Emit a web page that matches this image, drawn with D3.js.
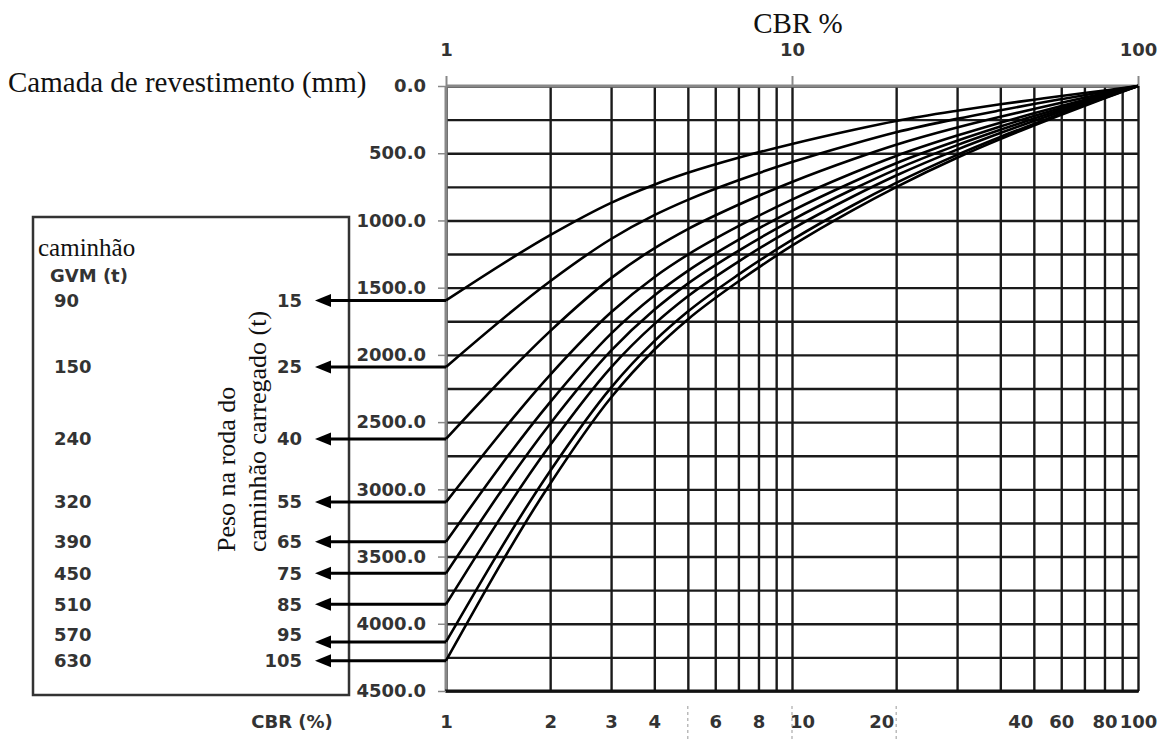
<!DOCTYPE html>
<html>
<head>
<meta charset="utf-8">
<script src="https://cdn.jsdelivr.net/npm/d3@7"></script>
<style>
  body { margin: 0; background: #fff; }
  .serif { font-family: "Liberation Serif", "Times New Roman", serif; fill: #111; }
  .sans { font-family: "DejaVu Sans", sans-serif; font-weight: bold; fill: #333; }
</style>
</head>
<body>
<svg width="1171" height="740"></svg>
<script>
// pontos de CBR (%) onde as curvas foram lidas
const cbrPontos = [1, 2, 3, 4, 5, 7, 10, 15, 20, 30, 40, 50, 60, 80, 100];

// peso na roda (t) e GVM do caminhão (t)
const pesoRoda = [15, 25, 40, 55, 65, 75, 85, 95, 105];
const gvm = [90, 150, 240, 320, 390, 450, 510, 570, 630];

// espessura da camada (mm) de cada curva nos pontos de cbrPontos
const esp15  = [1595, 1109, 869, 734, 646, 534, 431, 327, 260, 184, 136, 102, 74, 33, 0];
const esp25  = [2090, 1452, 1138, 961, 847, 701, 566, 431, 344, 244, 181, 134, 98, 43, 0];
const esp40  = [2625, 1823, 1429, 1207, 1064, 883, 714, 545, 437, 309, 229, 171, 125, 54, 0];
const esp55  = [3095, 2148, 1683, 1422, 1255, 1043, 845, 647, 520, 369, 273, 203, 148, 64, 0];
const esp65  = [3390, 2351, 1842, 1558, 1375, 1144, 929, 714, 575, 408, 302, 224, 164, 71, 0];
const esp75  = [3625, 2512, 1969, 1665, 1470, 1226, 997, 768, 620, 440, 326, 242, 177, 76, 0];
const esp85  = [3855, 2671, 2092, 1771, 1564, 1306, 1064, 822, 666, 473, 350, 260, 190, 81, 0];
const esp95  = [4135, 2863, 2243, 1898, 1678, 1403, 1145, 887, 721, 512, 379, 282, 205, 88, 0];
const esp105 = [4275, 2958, 2317, 1962, 1736, 1454, 1188, 923, 752, 534, 395, 294, 214, 91, 0];
const curvas = [esp15, esp25, esp40, esp55, esp65, esp75, esp85, esp95, esp105];

// ticks e grade
const ticksTopo = [1, 10, 100];
const ticksBase = [1, 2, 3, 4, 6, 8, 10, 20, 40, 60, 80, 100];
const ticksEsp = [0, 500, 1000, 1500, 2000, 2500, 3000, 3500, 4000, 4500];
const gradeCbr = [1, 2, 3, 4, 5, 6, 7, 8, 9, 10, 20, 30, 40, 50, 60, 70, 80, 90, 100];
const gradeEsp = [0, 250, 500, 750, 1000, 1250, 1500, 1750, 2000, 2250, 2500, 2750,
                  3000, 3250, 3500, 3750, 4000, 4250, 4500];
const marcasTracejadas = [5, 10, 20];

const svg = d3.select("svg");

const x = d3.scaleLog().domain([1, 100]).range([446, 1138]);
const y = d3.scaleLinear().domain([0, 4500]).range([86, 691]);

const larg = x(100) - x(1);
const alt = y(4500) - y(0);
const tamSans = 18;

// grade vertical
svg.append("g").attr("transform", `translate(0,${y(4500)})`)
  .call(d3.axisBottom(x).tickValues(gradeCbr).tickSize(-alt).tickFormat(""))
  .call(g => g.select(".domain").remove())
  .call(g => g.selectAll("line").attr("stroke", "#1a1a1a").attr("stroke-width", 2.4));

// grade horizontal
svg.append("g").attr("transform", `translate(${x(1)},0)`)
  .call(d3.axisLeft(y).tickValues(gradeEsp).tickSize(-larg).tickFormat(""))
  .call(g => g.select(".domain").remove())
  .call(g => g.selectAll("line").attr("stroke", "#1a1a1a").attr("stroke-width", 2.4));

// bordas de cima e da esquerda (cinza)
svg.append("line").attr("x1", x(1)).attr("x2", x(100)).attr("y1", y(0)).attr("y2", y(0))
  .attr("stroke", "#888").attr("stroke-width", 3);
svg.append("line").attr("x1", x(1)).attr("x2", x(1)).attr("y1", y(0)).attr("y2", y(4500))
  .attr("stroke", "#888").attr("stroke-width", 3);
svg.append("line").attr("x1", x(1) - 1).attr("x2", x(100) + 1).attr("y1", y(4500)).attr("y2", y(4500))
  .attr("stroke", "#111").attr("stroke-width", 3);

// eixo da esquerda
svg.append("g").attr("transform", `translate(${x(1)},0)`)
  .call(d3.axisLeft(y).tickValues(ticksEsp).tickFormat(d3.format(".1f")).tickSize(8).tickPadding(12))
  .call(g => g.select(".domain").remove())
  .call(g => g.selectAll("line").attr("stroke", "#888").attr("stroke-width", 1.5))
  .call(g => g.selectAll("text").attr("class", "sans").attr("font-size", tamSans));

// eixo de cima
svg.append("g").attr("transform", `translate(0,${y(0)})`)
  .call(d3.axisTop(x).tickValues(ticksTopo).tickFormat(d3.format("d")).tickSize(10).tickPadding(20))
  .call(g => g.select(".domain").remove())
  .call(g => g.selectAll("line").attr("stroke", "#888").attr("stroke-width", 2))
  .call(g => g.selectAll("text").attr("class", "sans").attr("font-size", tamSans));

// rótulos de baixo
const ajusteBase = { 10: 10, 20: -15, 40: 20 };
svg.append("g").attr("transform", `translate(0,${y(4500)})`)
  .call(d3.axisBottom(x).tickValues(ticksBase).tickFormat(d3.format("d")).tickSize(0).tickPadding(24))
  .call(g => g.select(".domain").remove())
  .call(g => g.selectAll("text").attr("class", "sans").attr("font-size", tamSans)
    .attr("dx", d => ajusteBase[d] || 0));

marcasTracejadas.forEach(c => {
  svg.append("line").attr("x1", x(c)).attr("x2", x(c)).attr("y1", 706).attr("y2", 740)
    .attr("stroke", "#999").attr("stroke-dasharray", "3,3");
});

svg.append("text").attr("class", "sans").attr("font-size", tamSans)
  .attr("x", 292).attr("y", 722).attr("dy", "0.35em").attr("text-anchor", "middle")
  .text("CBR (%)");

// curvas
const linha = d3.line()
  .x(d => x(d[0]))
  .y(d => y(d[1]))
  .curve(d3.curveMonotoneX);

curvas.forEach(esp => {
  svg.append("path")
    .datum(cbrPontos.map((c, i) => [c, esp[i]]))
    .attr("d", linha)
    .attr("fill", "none")
    .attr("stroke", "#000")
    .attr("stroke-width", 2.6);
});

// caixa do caminhão
svg.append("rect").attr("x", 33).attr("y", 217).attr("width", 316).attr("height", 478)
  .attr("fill", "none").attr("stroke", "#333").attr("stroke-width", 2.5);

// setas
const pontaSeta = 315;
const yRot = curvas.map(esp => y(esp[0]));
for (let i = yRot.length - 2; i >= 0; i--) {
  if (yRot[i + 1] - yRot[i] < 26) yRot[i] = yRot[i + 1] - 26;
}

curvas.forEach((esp, i) => {
  const ys = y(esp[0]);
  svg.append("line").attr("x1", x(1)).attr("x2", pontaSeta + 10).attr("y1", ys).attr("y2", ys)
    .attr("stroke", "#000").attr("stroke-width", 3);
  svg.append("path")
    .attr("d", `M${pontaSeta},${ys} L${pontaSeta + 16},${ys - 6.5} L${pontaSeta + 16},${ys + 6.5} Z`)
    .attr("fill", "#000");

  svg.append("text").attr("class", "sans").attr("font-size", tamSans)
    .attr("x", 302).attr("y", yRot[i]).attr("dy", "0.35em").attr("text-anchor", "end")
    .text(pesoRoda[i]);
  svg.append("text").attr("class", "sans").attr("font-size", tamSans)
    .attr("x", 54).attr("y", yRot[i]).attr("dy", "0.35em")
    .text(gvm[i]);
});

// textos
svg.append("text").attr("class", "serif").attr("font-size", 29)
  .attr("x", 798).attr("y", 33).attr("text-anchor", "middle").text("CBR %");

svg.append("text").attr("class", "serif").attr("font-size", 29)
  .attr("x", 8).attr("y", 92).text("Camada de revestimento (mm)");

svg.append("text").attr("class", "serif").attr("font-size", 25)
  .attr("x", 38).attr("y", 256).text("caminhão");

svg.append("text").attr("class", "sans").attr("font-size", tamSans)
  .attr("x", 50).attr("y", 276).attr("dy", "0.35em").text("GVM (t)");

svg.append("text").attr("class", "serif").attr("font-size", 26)
  .attr("transform", "translate(235,552) rotate(-90)").text("Peso na roda do");
svg.append("text").attr("class", "serif").attr("font-size", 26)
  .attr("transform", "translate(266,552) rotate(-90)").text("caminhão carregado (t)");
</script>
</body>
</html>
